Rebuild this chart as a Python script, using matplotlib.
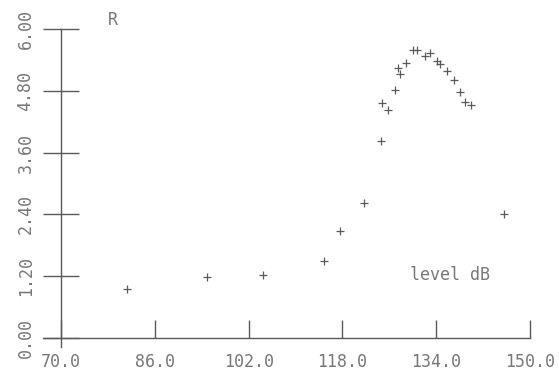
import matplotlib
matplotlib.use("Agg")
import matplotlib.pyplot as plt

# ===================== DATA =====================
level_db = [81.2, 94.9, 104.5, 114.9, 117.6, 121.6, 124.6, 124.8, 125.7, 127.0,
            127.4, 127.8, 128.8, 130.0, 130.8, 132.1, 132.9, 134.1, 134.7, 135.8,
            137.0, 138.0, 138.9, 139.9, 145.6]
r_values = [0.95, 1.18, 1.22, 1.50, 2.07, 2.62, 3.82, 4.57, 4.43, 4.82,
            5.25, 5.13, 5.34, 5.60, 5.60, 5.48, 5.54, 5.38, 5.32, 5.18,
            5.01, 4.77, 4.59, 4.52, 2.40]
x_ticks = [70.0, 86.0, 102.0, 118.0, 134.0, 150.0]
y_ticks = [0.0, 1.2, 2.4, 3.6, 4.8, 6.0]

# ===================== STYLE =====================
INK = "#5a5a5a"
TXT = "#777777"
plt.rcParams['font.family'] = ['DejaVu Sans Mono']

fig = plt.figure(figsize=(5.59, 3.78), dpi=100)
ax = fig.add_axes([0.0766, 0.0825, 0.8716, 0.8408])

ax.plot(level_db, r_values, linestyle='none', marker='+', markersize=5.5,
        markeredgewidth=0.9, color=INK)

ax.set_xlim(66.9, 150)
ax.set_ylim(-0.17, 6.0)

# axes drawn as crossing lines, like the old plotter output
for side in ['top', 'right']:
    ax.spines[side].set_visible(False)
ax.spines['left'].set_position(('data', 70))
ax.spines['bottom'].set_position(('data', 0))
ax.spines['left'].set_color(INK)
ax.spines['bottom'].set_color(INK)
ax.spines['left'].set_linewidth(1.0)
ax.spines['bottom'].set_linewidth(1.0)

ax.set_xticks(x_ticks)
ax.set_xticklabels([f"{v:.1f}" for v in x_ticks])
ax.set_yticks(y_ticks)
ax.set_yticklabels([f"{v:.2f}" for v in y_ticks], rotation=90, va='center')

ax.tick_params(axis='x', direction='in', length=13, width=1.0, color=INK,
               labelcolor=TXT, labelsize=12, pad=11)
ax.tick_params(axis='y', direction='inout', length=26, width=1.0, color=INK,
               labelcolor=TXT, labelsize=12, pad=6)

fig.text(0.202, 0.947, "R", color=TXT, fontsize=12, ha='center', va='center')
fig.text(0.805, 0.272, "level dB", color=TXT, fontsize=12, ha='center', va='center')

fig.savefig("out.png", dpi=100)
